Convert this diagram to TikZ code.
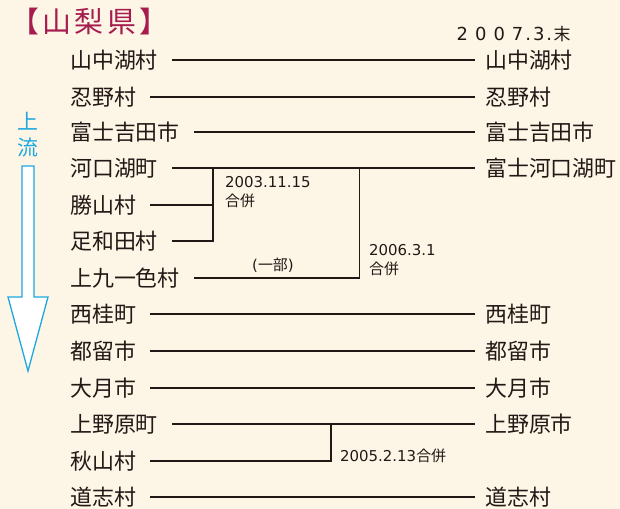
\documentclass[tikz,border=0pt]{standalone}
\usepackage{fontspec}
\setmainfont{DejaVu Sans}
\newfontfamily\jp{Noto Sans CJK JP}
\newfontfamily\jpspaced[LetterSpace=12]{Noto Sans CJK JP}
\definecolor{bg}{RGB}{253,245,230}
\definecolor{ink}{RGB}{35,24,21}
\definecolor{crim}{RGB}{166,28,78}
\definecolor{cyanA}{RGB}{30,168,224}
\newcommand{\dsp}[1]{\hspace{#1bp}}
\tikzset{
  town/.style={font=\jp\fontsize{22}{22}\selectfont, text=ink, inner sep=0pt, anchor=west},
  link/.style={draw=ink, line width=1.8bp},
  hline/.style={link, shorten <=14bp, shorten >=10bp},
  lab/.style={font=\fontsize{15}{19}\selectfont, text=ink, inner sep=0pt, anchor=west, align=left},
  flow/.style={font=\jp\fontsize{21}{21}\selectfont, text=cyanA, inner sep=0pt},
}
\begin{document}
\begin{tikzpicture}[x=1bp,y=-1bp]
\fill[bg] (0,0) rectangle (620,509);
\useasboundingbox (0,0) rectangle (620,509);

% title and date
\node[font=\jpspaced\fontsize{29}{29}\selectfont, text=crim, inner sep=0pt, anchor=west] (title) at (10,22) {【山梨県】};
\node[font=\fontsize{18}{18}\selectfont, text=ink, inner sep=0pt, anchor=base west] (date) at (456.5,40.7)
  {2\dsp{7}0\dsp{7}0\dsp{7}7\dsp{2}.\dsp{2}3\dsp{2}.\dsp{1.5}{\jp\fontsize{17}{17}\selectfont 末}};

% left column
\node[town] (L1) at (70,60) {山中湖村};
\node[town] (L2) at (70,97) {忍野村};
\node[town] (L3) at (70,132) {富士吉田市};
\node[town] (L4) at (70,168) {河口湖町};
\node[town] (L5) at (70,205) {勝山村};
\node[town] (L6) at (70,241) {足和田村};
\node[town] (L7) at (70,278) {上九一色村};
\node[town] (L8) at (70,314) {西桂町};
\node[town] (L9) at (70,351) {都留市};
\node[town] (L10) at (70,388) {大月市};
\node[town] (L11) at (70,424) {上野原町};
\node[town] (L12) at (70,461) {秋山村};
\node[town] (L13) at (70,497) {道志村};

% right column
\node[town] (R1) at (485,60) {山中湖村};
\node[town] (R2) at (485,97) {忍野村};
\node[town] (R3) at (485,132) {富士吉田市};
\node[town] (R4) at (485,168) {富士河口湖町};
\node[town] (R8) at (485,314) {西桂町};
\node[town] (R9) at (485,351) {都留市};
\node[town] (R10) at (485,388) {大月市};
\node[town] (R11) at (485,424) {上野原市};
\node[town] (R13) at (485,497) {道志村};

% straight links
\foreach \i in {1,2,3,4,8,9,10,11,13}{
  \draw[hline] (L\i.east) -- (R\i.west);
}

% 2003 merger
\coordinate (a1) at (213,168);
\coordinate (a2) at (213,241);
\draw[link] (a1) -- (a2) -- ([xshift=14bp]L6.east);
\draw[link] ([xshift=14bp]L5.east) -- (L5.east -| a1);
\node[lab] (d1) at (225,192.5) {2003.11.15\\{\jp 合併}};

% 2006 merger
\coordinate (b1) at (359.5,168);
\coordinate (b2) at (359.5,278);
\draw[link] (b1) -- (b2) -- ([xshift=14bp]L7.east);
\node[lab] (part) at (252,265) {({\jp 一部})};
\node[lab] (d2) at (369,260.5) {2006.3.1\\{\jp 合併}};

% 2005 merger
\coordinate (c1) at (331,424);
\coordinate (c2) at (331,461);
\draw[link] (c1) -- (c2) -- ([xshift=14bp]L12.east);
\node[lab] (d3) at (340,456) {2005.2.13{\jp 合併}};

% flow arrow
\node[flow] (up) at (28,121) {上};
\node[flow] (ryu) at (28,148) {流};
\draw[cyanA, line width=1.3bp, fill=white, line join=miter]
  (22,166) -- (34,166) -- (34,297) -- (48,297) -- (28,371) -- (8,297) -- (22,297) -- cycle;
\end{tikzpicture}
\end{document}
